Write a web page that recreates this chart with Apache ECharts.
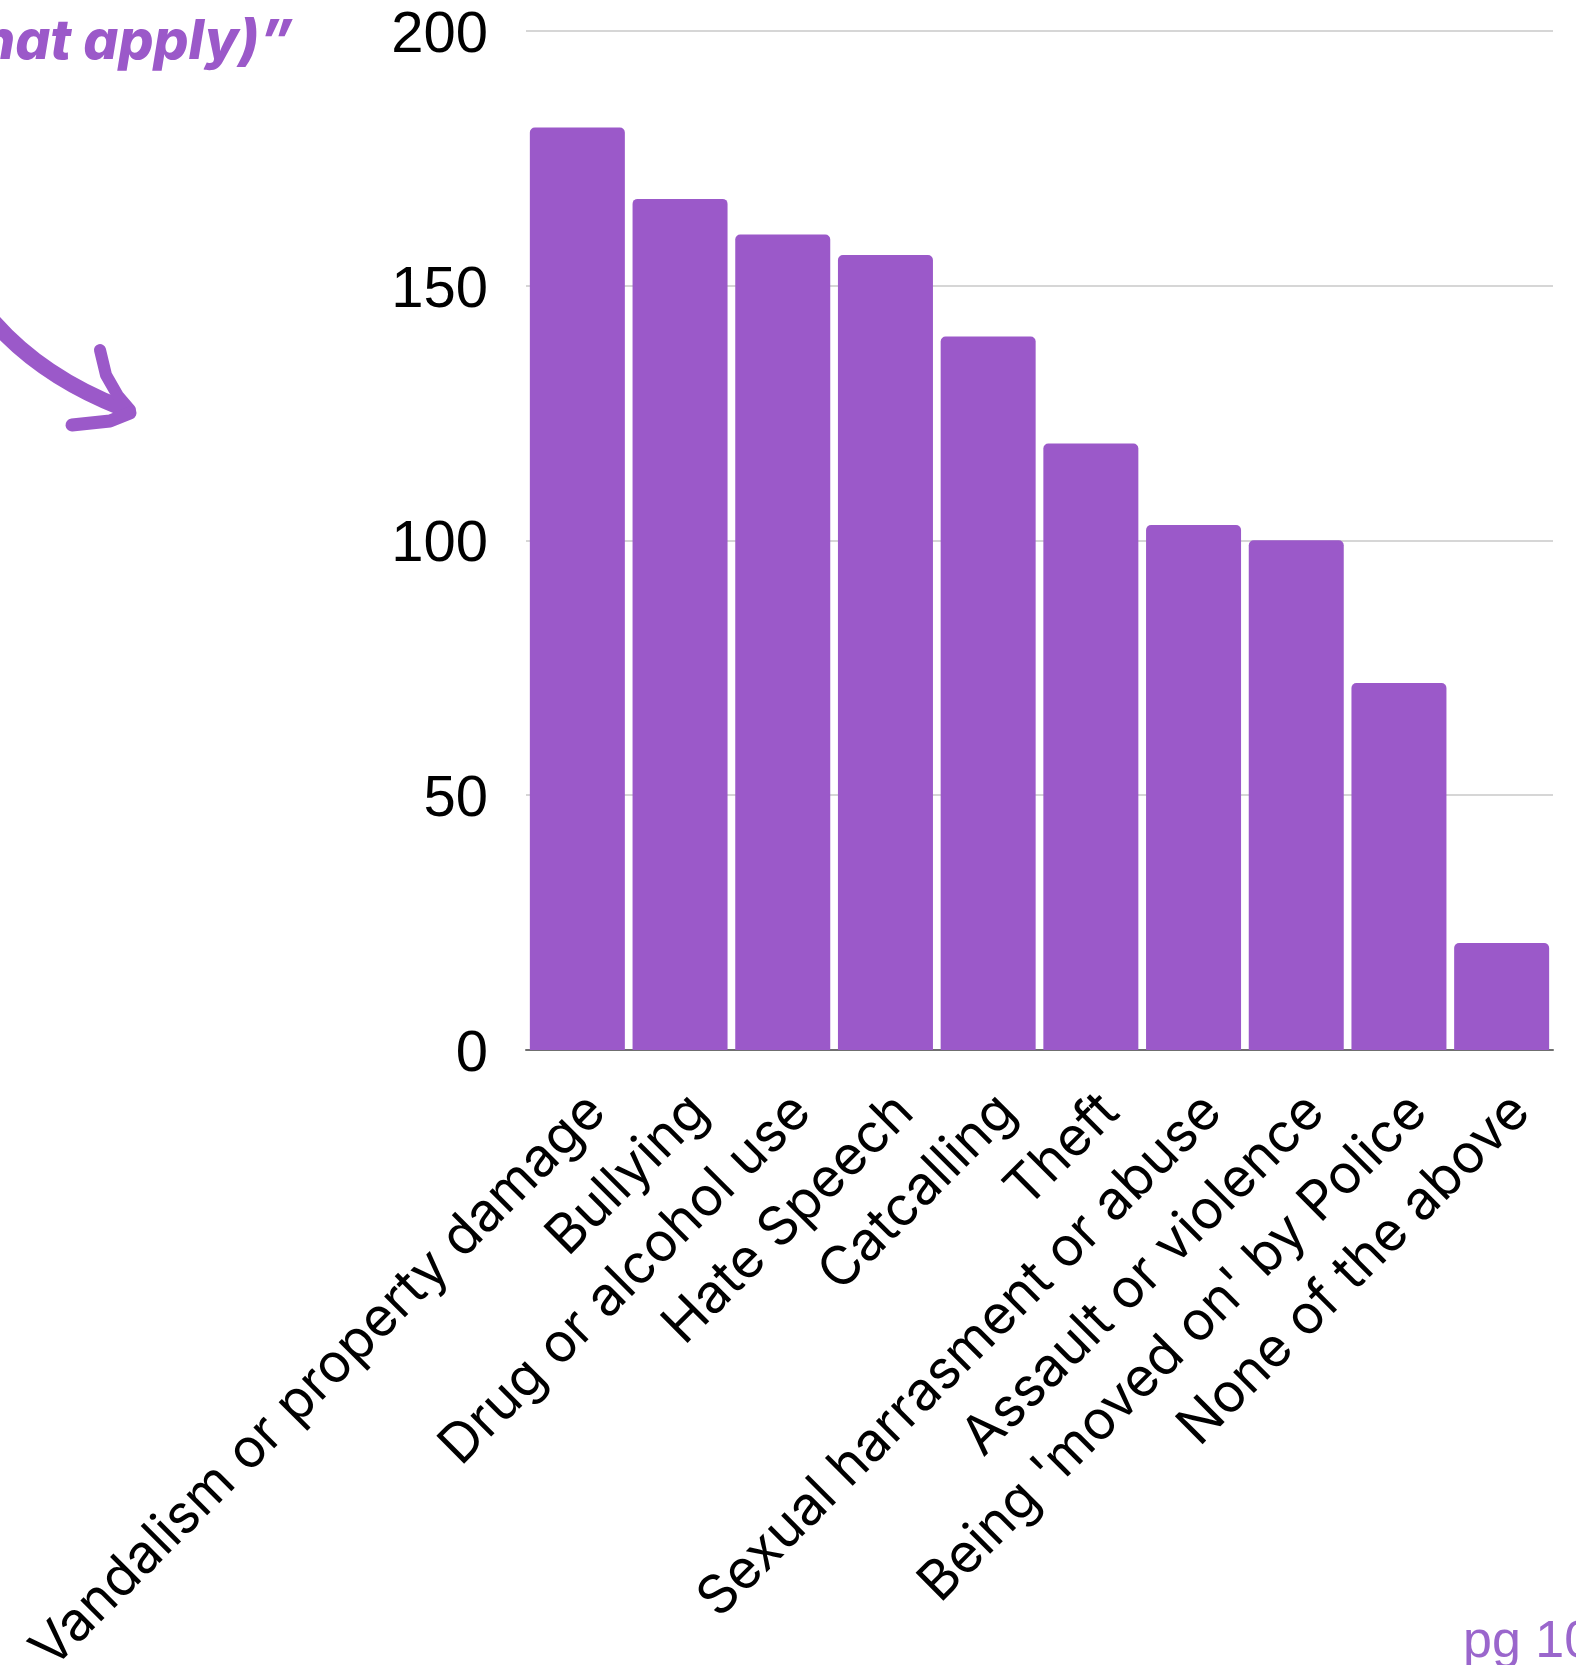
<!DOCTYPE html>
<html>
<head>
<meta charset="utf-8">
<script src="https://cdn.jsdelivr.net/npm/echarts@6/dist/echarts.min.js"></script>
<style>
  html, body { margin: 0; padding: 0; background: #ffffff; }
  #chart { width: 1576px; height: 1665px; }
</style>
</head>
<body>
<div id="chart"></div>
<script>
// Survey responses per category
const categories = [
  "Vandalism or property damage",
  "Bullying",
  "Drug or alcohol use",
  "Hate Speech",
  "Catcalling",
  "Theft",
  "Sexual harrasment or abuse",
  "Assault or violence",
  "Being 'moved on' by Police",
  "None of the above"
];
const responses = [181, 167, 160, 156, 140, 119, 103, 100, 72, 21];
const yTicks = [0, 50, 100, 150, 200];

const PURPLE = "#9b59c9";

const chart = echarts.init(document.getElementById("chart"), null, { renderer: "canvas" });

chart.setOption({
  backgroundColor: "#ffffff",
  animation: false,
  grid: {
    left: 526, right: 23, top: 30.7, bottom: 615,
    containLabel: false,
    outerBoundsMode: "none"
  },
  xAxis: {
    type: "category",
    data: categories,
    axisLine: { show: true, lineStyle: { color: "#6f6f6f", width: 2 } },
    axisTick: { show: false },
    axisLabel: {
      interval: 0,
      rotate: 45,
      margin: 34,
      verticalAlign: "top",
      color: "#000000",
      fontFamily: "Inter",
      fontSize: 54
    }
  },
  yAxis: {
    type: "value",
    min: yTicks[0],
    max: yTicks[yTicks.length - 1],
    interval: yTicks[1] - yTicks[0],
    axisLine: { show: false },
    axisTick: { show: false },
    splitLine: { lineStyle: { color: "#c8c8c8", width: 1.5 } },
    axisLabel: {
      margin: 38,
      formatter: "{v|{value}}",
      rich: {
        v: {
          padding: [10, 0, 0, 0],
          color: "#000000",
          fontFamily: "Liberation Sans",
          fontSize: 58
        }
      }
    }
  },
  series: [{
    type: "bar",
    data: responses,
    barCategoryGap: "7.5%",
    itemStyle: { color: PURPLE, borderRadius: [5, 5, 0, 0] }
  }],
  graphic: [
    // question text, running off the left edge
    {
      type: "text",
      style: {
        text: "that apply)\u201D",
        x: 293, y: 42,
        align: "right",
        verticalAlign: "middle",
        fill: PURPLE,
        font: "italic 800 55px Inter"
      }
    },
    // hand-drawn arrow pointing towards the chart
    {
      type: "bezierCurve",
      shape: { x1: -20, y1: 305, cpx1: 30, cpy1: 372, x2: 122, y2: 408 },
      style: { stroke: PURPLE, lineWidth: 16, fill: null, lineCap: "round" }
    },
    {
      type: "polyline",
      shape: { points: [[100, 350], [106, 375], [118, 396], [130, 410]] },
      style: { stroke: PURPLE, lineWidth: 12, fill: null, lineCap: "round", lineJoin: "round" }
    },
    {
      type: "polyline",
      shape: { points: [[130, 413], [110, 421], [72, 425]] },
      style: { stroke: PURPLE, lineWidth: 13, fill: null, lineCap: "round", lineJoin: "round" }
    },
    // page number
    {
      type: "text",
      style: {
        text: "pg 10",
        x: 1463, y: 1669,
        align: "left",
        verticalAlign: "bottom",
        fill: "#9a66cc",
        font: "52px 'Liberation Sans'"
      }
    }
  ]
});
</script>
</body>
</html>
